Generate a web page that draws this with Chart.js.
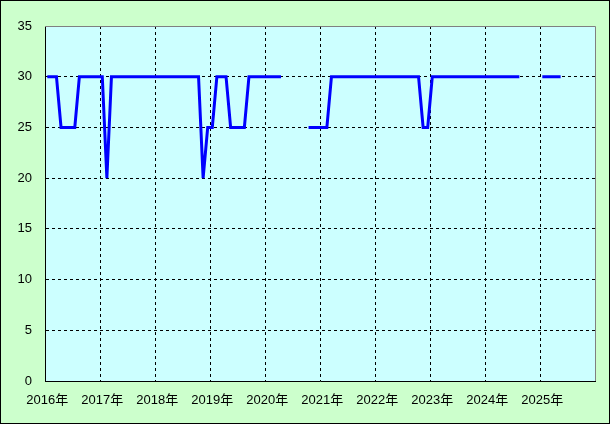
<!DOCTYPE html>
<html><head><meta charset="utf-8">
<script src="https://cdn.jsdelivr.net/npm/chart.js@4.4.1/dist/chart.umd.min.js"></script>
<style>html,body{margin:0;padding:0;background:#CCFFCC;}canvas{display:block}</style>
</head><body>
<canvas id="c" width="610" height="424"></canvas>
<script>
const years = ['2016','2017','2018','2019','2020','2021','2022','2023','2024','2025'];
const yearLabels = years.map(y => y + '年');
const months = [];
years.forEach(y => { for (let m = 1; m <= 12; m++) months.push(y + '-' + String(m).padStart(2, '0')); });

// monthly values, Jan 2016 .. Dec 2025 (null = no data)
const values = [
  30,30,30,25,25,25,25,30,30,30,30,30,   // 2016
  30,20,30,30,30,30,30,30,30,30,30,30,   // 2017
  30,30,30,30,30,30,30,30,30,30,20,25,   // 2018
  25,30,30,30,25,25,25,25,30,30,30,30,   // 2019
  30,30,30,30,null,null,null,null,null,25,25,25, // 2020
  25,25,30,30,30,30,30,30,30,30,30,30,   // 2021
  30,30,30,30,30,30,30,30,30,30,25,25,   // 2022
  30,30,30,30,30,30,30,30,30,30,30,30,   // 2023
  30,30,30,30,30,30,30,30,null,null,null,null, // 2024
  30,30,30,30,30,null,null,null,null,null,null,null // 2025
];
const yMin = 0, yMax = 35, yStep = 5;

Chart.defaults.font.family = "'Liberation Sans','Noto Sans CJK JP',sans-serif";
Chart.defaults.font.size = 13;
Chart.defaults.color = '#000';

const bgPlugin = {
  id: 'bg',
  beforeDraw(chart) {
    const {ctx, chartArea: a} = chart;
    ctx.save();
    ctx.fillStyle = '#CCFFCC';
    ctx.fillRect(0, 0, chart.width, chart.height);
    ctx.fillStyle = '#CCFFFF';
    ctx.fillRect(a.left, a.top, a.right - a.left, a.bottom - a.top);
    ctx.restore();
  },
  afterDraw(chart) {
    const {ctx, chartArea: a} = chart;
    ctx.save();
    ctx.strokeStyle = '#808080';
    ctx.lineWidth = 1;
    ctx.beginPath();
    ctx.moveTo(a.left, Math.round(a.top) + 0.5);
    ctx.lineTo(Math.round(a.right) + 0.5, Math.round(a.top) + 0.5);
    ctx.lineTo(Math.round(a.right) + 0.5, a.bottom);
    ctx.stroke();
    ctx.strokeStyle = '#000';
    ctx.strokeRect(0.5, 0.5, chart.width - 1, chart.height - 1);
    ctx.restore();
  }
};

new Chart(document.getElementById('c'), {
  type: 'line',
  data: {
    labels: months,
    datasets: [{
      data: values,
      borderColor: '#0000FF',
      borderWidth: 3,
      pointRadius: 0,
      tension: 0,
      spanGaps: false,
      fill: false
    }]
  },
  options: {
    responsive: false,
    animation: false,
    events: [],
    layout: {padding: {top: 26, right: 15, left: 0, bottom: 0}},
    plugins: {legend: {display: false}, tooltip: {enabled: false}, title: {display: false}},
    scales: {
      x: {
        type: 'category',
        offset: true,
        afterFit(s) { s.height = 43; },
        grid: {
          offset: true,
          drawTicks: false,
          lineWidth: 1,
          color: c => (c.index % 12 === 0 && c.index > 0 && c.index < months.length) ? '#000' : 'rgba(0,0,0,0)'
        },
        border: {display: true, color: '#000', width: 1, dash: [3, 3]},
        ticks: {
          autoSkip: false,
          maxRotation: 0,
          minRotation: 0,
          padding: 12,
          callback: (v, i) => (i % 12 === 0) ? yearLabels[i / 12] : ''
        }
      },
      y: {
        min: yMin,
        max: yMax,
        afterFit(s) { s.width = 45; },
        grid: {
          drawTicks: false,
          lineWidth: 1,
          color: c => (c.tick && c.tick.value > yMin && c.tick.value < yMax) ? '#000' : 'rgba(0,0,0,0)'
        },
        border: {display: true, color: '#000', width: 1, dash: [3, 3]},
        ticks: {stepSize: yStep, padding: 13}
      }
    }
  },
  plugins: [bgPlugin]
});
</script>
</body></html>
